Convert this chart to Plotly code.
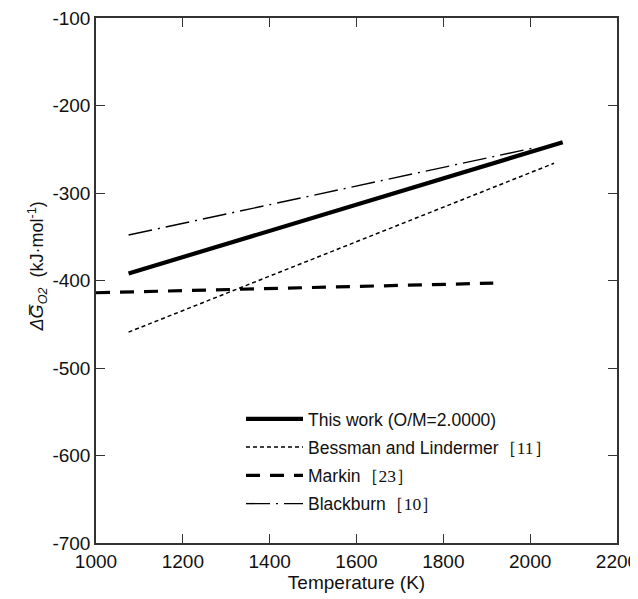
import plotly.graph_objects as go

# temperature endpoints (K) and partial molar Gibbs energy (kJ/mol)
this_work_t = [1075, 2075]
this_work_g = [-392, -242]

bessman_t = [1075, 2055]
bessman_g = [-459, -266]

markin_t = [1000, 1915]
markin_g = [-414, -403]

blackburn_t = [1075, 2003]
blackburn_g = [-348, -249]

x_ticks = [1000, 1200, 1400, 1600, 1800, 2000, 2200]
y_ticks = [-700, -600, -500, -400, -300, -200, -100]

ref = '<span style="font-family:Liberation Serif">［{}］</span>'

series = [
    ("This work (O/M=2.0000)", this_work_t, this_work_g, 4.2, "solid"),
    ("Bessman and Lindermer" + ref.format(11), bessman_t, bessman_g, 1.5, "4px,3px"),
    ("Markin" + ref.format(23), markin_t, markin_g, 3.2, "14px,10px"),
    ("Blackburn" + ref.format(10), blackburn_t, blackburn_g, 1.4, "24px,6px,2px,6px"),
]

fig = go.Figure()
for i, (name, t, g, w, dash) in enumerate(series):
    fig.add_trace(go.Scatter(x=t, y=g, mode="lines", name=name, legendgroup=f"g{i}",
                             line=dict(color="black", width=w, dash=dash)))

axis_style = dict(showline=True, linecolor="#333", linewidth=1.5, mirror="ticks",
                  ticks="inside", ticklen=9, tickwidth=1.2, tickcolor="#333",
                  showgrid=False, zeroline=False, automargin=False, ticklabeloverflow="allow",
                  tickfont=dict(family="Liberation Sans", size=19, color="#111"))

fig.update_xaxes(range=[1000, 2200], tickvals=x_ticks, ticktext=[str(v) for v in x_ticks],
                 title=dict(text="Temperature (K)", standoff=0,
                            font=dict(family="Liberation Sans", size=19, color="#111")),
                 **axis_style)
fig.update_yaxes(range=[-700, -100], tickvals=y_ticks, ticktext=[str(v) for v in y_ticks],
                 **axis_style)

# y title sits a little above the middle of the axis in the original, so use an annotation
fig.add_annotation(text="<i>ΔG\u0305</i><sub><i>O2</i></sub>  (kJ·mol<sup>-1</sup>)",
                   xref="paper", yref="paper", x=-0.113, y=0.527, textangle=-90,
                   xanchor="center", yanchor="middle", showarrow=False,
                   font=dict(family="Liberation Sans", size=18, color="#111"))

# the page body adds an 8px offset, so the figure is sized 8px smaller
fig.update_layout(
    width=630, height=591,
    margin=dict(l=88, r=21, t=10, b=56),
    plot_bgcolor="white", paper_bgcolor="white",
    showlegend=True,
    legend=dict(x=0.2783, y=0.2705, xanchor="left", yanchor="top", bgcolor="rgba(0,0,0,0)",
                font=dict(family="Liberation Sans", size=17.5, color="#111"),
                itemwidth=57, tracegroupgap=2.5),
)

fig.write_html("out.html")
